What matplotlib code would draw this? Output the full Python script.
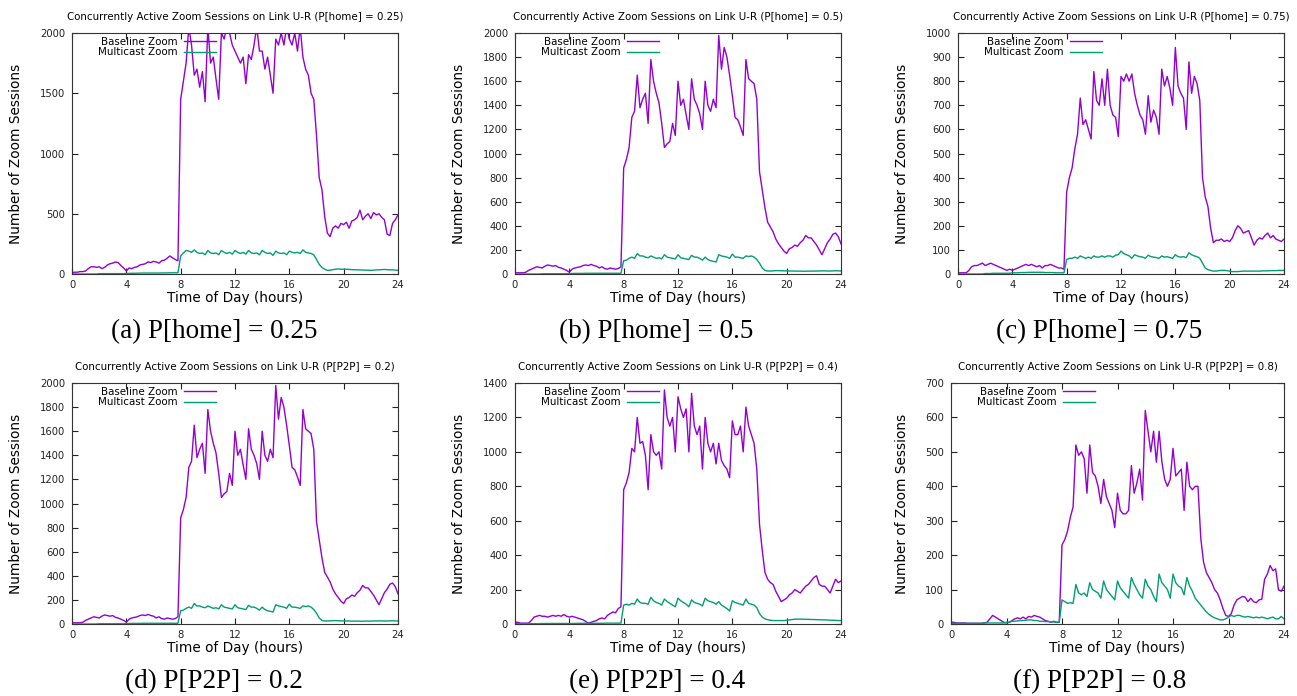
import numpy as np
import matplotlib
matplotlib.use("Agg")
import matplotlib.pyplot as plt

# time grid used for every series (one sample every 0.2 h)
hours = np.round(np.arange(0, 24.01, 0.2), 1)

# (a) P[home] = 0.25
base_a = [10, 15, 15, 20, 20, 25, 45, 60, 60, 55,
          60, 45, 55, 75, 85, 90, 100, 95, 70, 50,
          25, 50, 45, 55, 60, 75, 80, 85, 100, 95,
          105, 100, 90, 110, 115, 130, 150, 135, 120, 110,
          1450, 1600, 1750, 2050, 1900, 1650, 1700, 1550, 1680, 1430,
          2050, 1750, 1800, 1620, 1450, 2000, 1950, 2050, 2000, 1900,
          1850, 1800, 1750, 1800, 1580, 1820, 1780, 1900, 2050, 1850,
          1850, 1700, 1800, 1650, 1500, 1950, 1900, 2000, 1900, 2050,
          1950, 1900, 2000, 1850, 2050, 1800, 1700, 1650, 1500, 1450,
          1150, 800, 700, 480, 340, 310, 380, 400, 380, 420,
          410, 430, 380, 440, 450, 470, 530, 450, 480, 500,
          460, 510, 490, 500, 470, 450, 330, 320, 420, 450,
          490]
multi_a = [0, 0, 0, 0, 0, 0, 0, 0, 0, 0,
           3, 3, 3, 3, 3, 3, 3, 3, 3, 3,
           5, 5, 6, 6, 7, 7, 8, 8, 8, 8,
           8, 8, 8, 9, 9, 9, 10, 10, 10, 10,
           150, 175, 195, 190, 180, 200, 180, 170, 175, 160,
           195, 175, 170, 175, 160, 195, 180, 170, 180, 165,
           195, 180, 170, 180, 165, 195, 175, 170, 175, 160,
           195, 180, 170, 175, 155, 190, 175, 170, 175, 160,
           190, 180, 175, 180, 170, 200, 180, 175, 170, 160,
           120, 80, 55, 40, 30, 32, 36, 40, 42, 40,
           40, 40, 38, 36, 35, 35, 34, 33, 32, 32,
           30, 32, 34, 35, 36, 38, 36, 34, 35, 32,
           30]

# (b) P[home] = 0.5  -- same run as (d) P[P2P] = 0.2
base_b = [10, 10, 10, 10, 15, 30, 40, 50, 60, 55,
          50, 65, 75, 70, 65, 70, 55, 50, 40, 30,
          15, 40, 50, 55, 60, 70, 75, 70, 80, 70,
          65, 50, 60, 45, 40, 50, 45, 40, 45, 60,
          880, 950, 1050, 1300, 1350, 1650, 1380, 1450, 1500, 1250,
          1780, 1600, 1500, 1420, 1250, 1050, 1080, 1100, 1250, 1150,
          1600, 1400, 1450, 1320, 1200, 1620, 1450, 1400, 1330, 1200,
          1600, 1400, 1350, 1450, 1380, 1980, 1700, 1880, 1800, 1650,
          1480, 1300, 1280, 1220, 1150, 1780, 1620, 1600, 1580, 1450,
          850, 700, 550, 430, 390, 350, 290, 250, 220, 190,
          170, 210, 220, 240, 230, 260, 280, 320, 300, 300,
          270, 240, 200, 160, 210, 260, 290, 330, 340, 310,
          250]
multi_b = [0, 0, 0, 0, 0, 0, 0, 0, 0, 0,
           2, 2, 2, 2, 2, 2, 2, 2, 2, 2,
           4, 4, 5, 5, 5, 5, 6, 6, 6, 6,
           6, 6, 6, 6, 6, 6, 6, 6, 6, 6,
           110, 115, 130, 140, 130, 170, 150, 150, 140, 135,
           150, 140, 130, 135, 125, 160, 140, 135, 130, 125,
           160, 135, 130, 125, 120, 155, 140, 140, 130, 115,
           140, 120, 110, 105, 100, 160, 150, 145, 140, 130,
           165, 140, 140, 135, 130, 150, 145, 150, 140, 120,
           90, 50, 30, 25, 25, 26, 28, 28, 27, 26,
           26, 25, 25, 24, 24, 24, 23, 23, 24, 24,
           24, 25, 25, 26, 26, 25, 25, 26, 27, 26,
           25]

# (c) P[home] = 0.75
base_c = [5, 5, 5, 5, 15, 30, 35, 35, 40, 45,
          35, 40, 45, 40, 35, 30, 25, 20, 15, 20,
          15, 20, 25, 30, 35, 40, 35, 40, 35, 30,
          35, 25, 35, 35, 40, 35, 30, 25, 25, 20,
          340, 400, 440, 520, 580, 730, 620, 640, 600, 560,
          840, 720, 700, 810, 700, 850, 700, 660, 650, 570,
          820, 800, 830, 800, 830, 750, 700, 660, 640, 580,
          740, 630, 680, 650, 580, 850, 780, 820, 770, 700,
          940, 780, 750, 730, 600, 880, 750, 820, 790, 720,
          400, 320, 280, 190, 130, 140, 140, 145, 135, 140,
          135, 150, 180, 200, 190, 170, 175, 180, 150, 120,
          140, 150, 145, 160, 170, 150, 160, 145, 140, 135,
          145]
multi_c = [0, 0, 0, 0, 0, 0, 0, 0, 0, 0,
           2, 2, 2, 3, 3, 3, 3, 3, 3, 3,
           5, 5, 5, 6, 6, 6, 7, 7, 7, 7,
           7, 7, 6, 6, 6, 6, 5, 5, 5, 5,
           60, 65, 65, 70, 65, 75, 70, 65, 70, 65,
           75, 70, 70, 75, 70, 75, 75, 70, 78, 80,
           95, 85, 80, 75, 65, 80, 75, 72, 70, 65,
           78, 72, 70, 68, 65, 75, 70, 72, 68, 65,
           80, 72, 70, 72, 68, 88, 80, 75, 72, 65,
           45, 25, 18, 15, 12, 12, 14, 15, 15, 14,
           12, 10, 10, 10, 11, 12, 12, 12, 12, 12,
           12, 12, 13, 13, 13, 14, 14, 14, 15, 15,
           15]

# (e) P[P2P] = 0.4
base_e = [10, 10, 5, 5, 5, 5, 20, 40, 45, 50,
          45, 45, 40, 45, 50, 45, 50, 45, 55, 45,
          40, 45, 40, 35, 30, 25, 15, 5, 10, 15,
          20, 30, 35, 30, 50, 60, 70, 65, 90, 100,
          780, 820, 880, 1020, 1000, 1200, 1050, 1060, 980, 780,
          1100, 1000, 980, 1000, 900, 1360, 1200, 1150, 1200, 1000,
          1320, 1250, 1200, 1250, 1000, 1340, 1150, 1100, 1150, 900,
          1200, 1050, 1000, 1050, 930, 1050, 950, 920, 900, 850,
          1180, 1100, 1100, 1150, 1000, 1260, 1150, 1100, 1050, 900,
          580, 430, 300, 260, 240, 230, 190, 160, 130, 140,
          150, 170, 180, 200, 190, 180, 200, 220, 230, 250,
          270, 280, 230, 220, 220, 200, 180, 220, 260, 240,
          250]
multi_e = [2, 2, 2, 2, 2, 2, 2, 2, 2, 2,
           3, 3, 3, 3, 3, 3, 3, 3, 3, 3,
           3, 3, 3, 4, 4, 4, 4, 4, 4, 4,
           4, 4, 4, 5, 5, 5, 5, 5, 5, 5,
           110, 115, 110, 120, 115, 145, 125, 120, 120, 115,
           155, 135, 125, 120, 110, 145, 130, 120, 110, 100,
           150, 135, 125, 115, 100, 140, 125, 120, 115, 105,
           150, 135, 130, 125, 115, 130, 110, 100, 90, 75,
           135, 125, 120, 115, 110, 145, 120, 115, 110, 95,
           60, 40, 30, 25, 22, 20, 20, 20, 20, 20,
           22, 24, 26, 28, 28, 28, 28, 27, 27, 26,
           26, 25, 25, 24, 24, 23, 22, 22, 21, 20,
           20]

# (f) P[P2P] = 0.8
base_f = [5, 5, 3, 3, 3, 3, 2, 2, 2, 2,
          2, 2, 3, 5, 15, 25, 20, 15, 10, 5,
          3, 5, 10, 15, 18, 15, 20, 15, 22, 20,
          25, 22, 20, 15, 10, 8, 5, 8, 5, 5,
          230, 245, 270, 310, 340, 520, 490, 500, 480, 380,
          520, 440, 430, 400, 350, 420, 370, 350, 330, 280,
          380, 330, 320, 320, 330, 460, 380, 410, 450, 360,
          620, 560, 500, 560, 470, 560, 470, 420, 400, 420,
          510, 430, 440, 450, 330, 470, 400, 390, 400, 400,
          250, 180, 150, 135, 120, 100, 90, 70, 45, 25,
          22, 30, 55, 70, 75, 80, 78, 65, 75, 65,
          62, 70, 72, 130, 145, 170, 155, 160, 100, 95,
          110]
multi_f = [2, 2, 2, 2, 2, 2, 2, 2, 2, 2,
           2, 2, 3, 3, 3, 3, 3, 3, 3, 3,
           5, 5, 8, 8, 9, 10, 10, 11, 12, 12,
           10, 10, 8, 8, 7, 7, 6, 6, 5, 5,
           70, 65, 60, 62, 60, 115, 90, 85, 90, 80,
           120, 100, 95, 90, 75, 125, 100, 90, 80, 70,
           125, 105, 95, 85, 75, 135, 115, 100, 85, 75,
           130, 110, 100, 80, 65, 145, 120, 110, 100, 75,
           145, 120, 110, 105, 85, 135, 110, 95, 75, 65,
           55, 45, 35, 28, 22, 18, 15, 12, 12, 15,
           20, 25, 22, 25, 25, 22, 20, 22, 20, 18,
           20, 18, 20, 18, 15, 18, 20, 15, 15, 22,
           15]

titles = ["P[home] = 0.25", "P[home] = 0.5", "P[home] = 0.75",
          "P[P2P] = 0.2", "P[P2P] = 0.4", "P[P2P] = 0.8"]
captions = ["(a) P[home] = 0.25", "(b) P[home] = 0.5", "(c) P[home] = 0.75",
            "(d) P[P2P] = 0.2", "(e) P[P2P] = 0.4", "(f) P[P2P] = 0.8"]
baseline = [base_a, base_b, base_c, base_b, base_e, base_f]
multicast = [multi_a, multi_b, multi_c, multi_b, multi_e, multi_f]
y_max = [2000, 2000, 1000, 2000, 1400, 700]
y_step = [500, 200, 100, 200, 200, 100]

# axes frames in pixels: left, right, top, bottom
frames = [(72, 398, 33, 274), (515, 841, 33, 274), (958, 1284, 33, 274),
          (72, 398, 383, 624), (515, 841, 383, 624), (951, 1284, 383, 624)]
caption_xy = [(214, 332), (656, 332), (1099, 332),
              (214, 682), (657, 682), (1100, 682)]

W, H = 1297, 696
fig = plt.figure(figsize=(W / 100, H / 100), dpi=100)

for i in range(6):
    l, r, t, b = frames[i]
    ax = fig.add_axes([l / W, 1 - b / H, (r - l) / W, (b - t) / H])
    ax.plot(hours, baseline[i], color="#9400D3", lw=1.0, label="Baseline Zoom")
    ax.plot(hours, multicast[i], color="#009E73", lw=1.0, label="Multicast Zoom")
    ax.set_xlim(0, 24)
    ax.set_ylim(0, y_max[i])
    ax.set_xticks(range(0, 25, 4))
    ax.set_yticks(range(0, y_max[i] + 1, y_step[i]))
    ax.tick_params(direction="in", top=True, right=True, length=4, width=0.8,
                   labelsize=7.2, colors="#222222", pad=4)
    ax.tick_params(axis="y", pad=5)
    for s in ax.spines.values():
        s.set_linewidth(0.8)
        s.set_color("#333333")
    ax.set_xlabel("Time of Day (hours)", fontsize=9.8, labelpad=1)
    ax.set_ylabel("Number of Zoom Sessions", fontsize=9.8, labelpad=12)
    ax.set_title("Concurrently Active Zoom Sessions on Link U-R (" + titles[i] + ")",
                 fontsize=7.4, pad=9)
    ax.legend(loc="upper right", bbox_to_anchor=(144 / (r - l), 0.985),
              frameon=False, markerfirst=False, fontsize=7.4, borderpad=0,
              borderaxespad=0, labelspacing=0.05, handlelength=3.1,
              handletextpad=0.6)
    cx, cy = caption_xy[i]
    fig.text(cx / W, 1 - cy / H, captions[i], ha="center", va="center",
             fontsize=19.5, family="Liberation Serif")

fig.savefig("out.png", dpi=100)
